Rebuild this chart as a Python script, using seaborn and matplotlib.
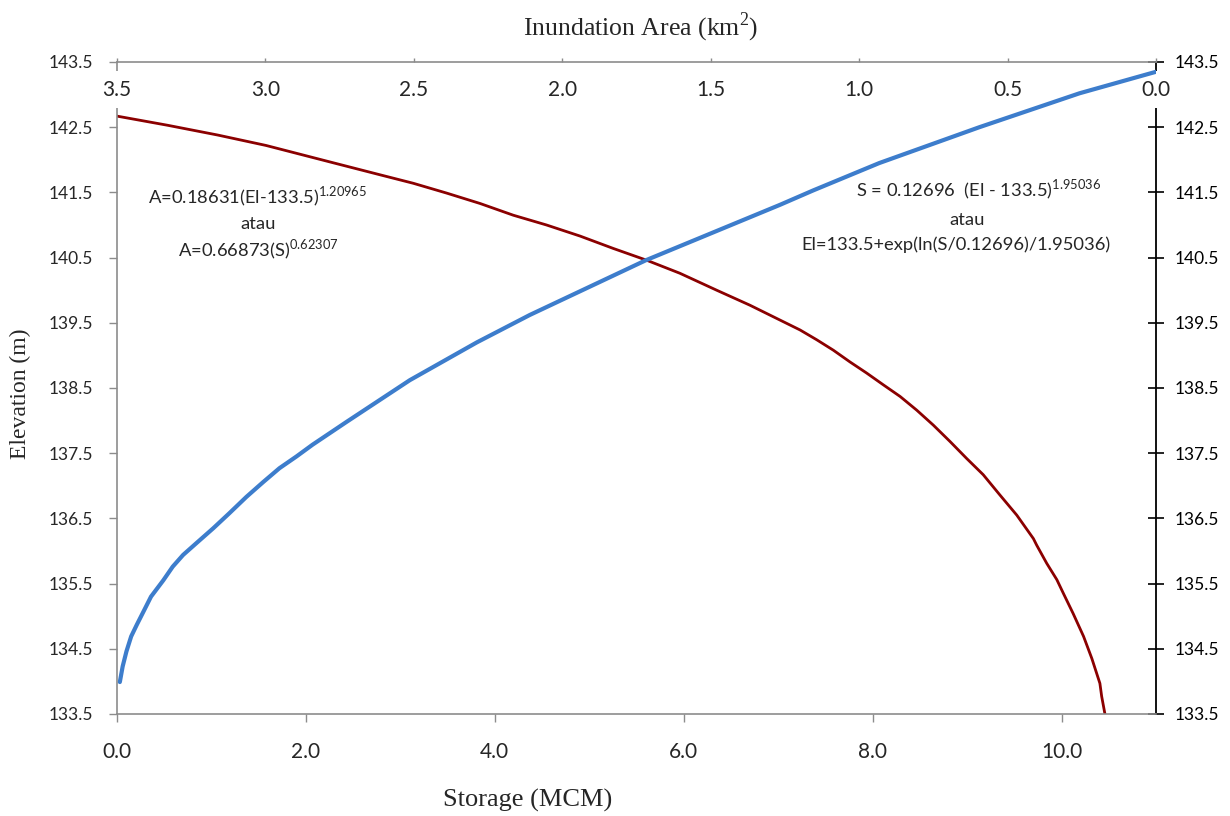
import matplotlib
matplotlib.use("Agg")
import matplotlib.pyplot as plt
import seaborn as sns
import pandas as pd

# ---- data ----
storage_mcm = [0.03, 0.06, 0.10, 0.15, 0.21, 0.28, 0.36, 0.49, 0.59, 0.70, 0.84, 1.02,
               1.19, 1.37, 1.55, 1.72, 1.90, 2.07, 2.43, 3.10, 3.81, 4.37, 5.60, 7.02,
               7.37, 8.07, 9.13, 10.19, 11.0]
storage_elev = [133.99, 134.23, 134.46, 134.69, 134.87, 135.07, 135.30, 135.55, 135.76,
                135.94, 136.12, 136.35, 136.58, 136.83, 137.06, 137.27, 137.45, 137.63,
                137.98, 138.62, 139.20, 139.62, 140.46, 141.31, 141.53, 141.95, 142.50,
                143.02, 143.35]

area_km2 = [3.500, 3.330, 3.161, 2.998, 2.768, 2.614, 2.502, 2.390, 2.277, 2.165, 2.053,
            1.940, 1.828, 1.716, 1.604, 1.480, 1.368, 1.199, 1.143, 1.087, 1.031, 0.975,
            0.919, 0.862, 0.806, 0.750, 0.694, 0.638, 0.582, 0.526, 0.469, 0.413, 0.402,
            0.368, 0.334, 0.312, 0.279, 0.244, 0.216, 0.189, 0.183, 0.172]
area_elev = [142.67, 142.53, 142.38, 142.22, 141.95, 141.77, 141.64, 141.49, 141.33,
             141.15, 141.00, 140.83, 140.64, 140.46, 140.26, 140.00, 139.77, 139.39,
             139.24, 139.08, 138.90, 138.73, 138.55, 138.37, 138.16, 137.93, 137.68,
             137.42, 137.17, 136.86, 136.55, 136.19, 136.09, 135.81, 135.56, 135.35,
             135.04, 134.69, 134.35, 133.97, 133.77, 133.50]

elev_ticks = [133.5, 134.5, 135.5, 136.5, 137.5, 138.5, 139.5, 140.5, 141.5, 142.5, 143.5]
storage_ticks = [0.0, 2.0, 4.0, 6.0, 8.0, 10.0]
area_ticks = [3.5, 3.0, 2.5, 2.0, 1.5, 1.0, 0.5, 0.0]

df_s = pd.DataFrame({"Storage": storage_mcm, "Elevation": storage_elev})
df_a = pd.DataFrame({"Area": area_km2, "Elevation": area_elev})

sns.set_style("white")
plt.rcParams["font.family"] = ["Lato", "DejaVu Sans"]

BLUE = "#3D7DCC"
RED = "#8B0000"
GRAY = "#8C8C8C"
SERIF = ["Liberation Serif", "DejaVu Serif"]

fig = plt.figure(figsize=(12.3, 8.16), dpi=100)
ax = fig.add_axes([117 / 1230, 1 - 714 / 816, (1156 - 117) / 1230, (714 - 62) / 816])
ax2 = ax.twiny()

# storage curve (bottom axis), drawn above everything
sns.lineplot(data=df_s, x="Storage", y="Elevation", ax=ax, color=BLUE, lw=3.0,
             estimator=None, sort=False)
ax.set_xlim(0, 11)
ax.set_ylim(133.5, 143.5)
ax.set_xticks(storage_ticks)
ax.set_xticklabels([f"{v:.1f}" for v in storage_ticks])
ax.set_yticks(elev_ticks)
ax.set_yticklabels([f"{v:.1f}" for v in elev_ticks])
ax.tick_params(axis="x", direction="out", length=6, width=1, color=GRAY,
               labelsize=15, pad=14, bottom=True, top=False)
ax.tick_params(axis="y", direction="out", length=6, width=1, color=GRAY,
               labelsize=12.5, pad=11, left=True, right=False)
for s in ("top", "right", "left"):
    ax.spines[s].set_visible(False)
ax.spines["bottom"].set_color(GRAY)
ax.spines["bottom"].set_linewidth(1.2)
ax.set_xlabel("")
ax.set_ylabel("")
ax.set_zorder(3)
ax.patch.set_visible(False)

# inundation area curve (top axis, reversed) + right elevation axis
sns.lineplot(data=df_a, x="Area", y="Elevation", ax=ax2, color=RED, lw=2.0,
             estimator=None, sort=False)
ax2.set_zorder(2)
ax2.set_xlim(3.5, 0.0)
ax2.set_xticks(area_ticks)
ax2.set_xticklabels([f"{v:.1f}" for v in area_ticks])
ax2.tick_params(axis="x", direction="out", length=3, width=1, color=GRAY,
                labelsize=15, pad=-30, top=True, labeltop=True, bottom=False,
                labelbottom=False)
for lbl in ax2.get_xticklabels():
    lbl.set_bbox(dict(boxstyle="square,pad=0.4", fc="white", ec="none"))
ax2.xaxis.set_zorder(3)

ax2.yaxis.set_visible(True)
ax2.yaxis.tick_right()
ax2.tick_params(axis="y", direction="inout", length=11, width=1.2, colors="black",
                labelsize=12.5, pad=8, right=True, left=False, labelright=True,
                labelleft=False)
ax2.spines["bottom"].set_visible(False)
ax2.spines["top"].set_color(GRAY)
ax2.spines["top"].set_linewidth(1.2)
ax2.spines["left"].set_color(GRAY)
ax2.spines["left"].set_linewidth(1.2)
ax2.spines["right"].set_color("black")
ax2.spines["right"].set_linewidth(1.3)
ax2.set_xlabel("")
ax2.set_ylabel("")

# axis titles
fig.text(641 / 1230, 1 - 27 / 816, "Inundation Area (km$^{\\mathregular{2}}$)",
         ha="center", va="center", fontsize=18.5, family=SERIF)
fig.text(528 / 1230, 1 - 800 / 816, "Storage (MCM)", ha="center", va="center",
         fontsize=19, family=SERIF)
fig.text(20 / 1230, 1 - 394 / 816, "Elevation (m)", ha="center", va="center",
         fontsize=17, family=SERIF, rotation=90)

# equation annotations
def fx(px):
    return (px - 117) / (1156 - 117)

def fy(py):
    return (714 - py) / (714 - 62)

AFS = 13.2
ax2.text(fx(258), fy(197), "A=0.18631(El-133.5)$^{\\mathregular{1.20965}}$",
         transform=ax.transAxes, ha="center", va="center", fontsize=AFS)
ax2.text(fx(258), fy(224), "atau", transform=ax.transAxes, ha="center", va="center",
         fontsize=AFS)
ax2.text(fx(258), fy(250), "A=0.66873(S)$^{\\mathregular{0.62307}}$",
         transform=ax.transAxes, ha="center", va="center", fontsize=AFS)

ax2.text(fx(979), fy(190), "S = 0.12696  (El - 133.5)$^{\\mathregular{1.95036}}$",
         transform=ax.transAxes, ha="center", va="center", fontsize=AFS)
ax2.text(fx(967), fy(220), "atau", transform=ax.transAxes, ha="center", va="center",
         fontsize=AFS)
ax2.text(fx(956), fy(245), "El=133.5+exp(ln(S/0.12696)/1.95036)",
         transform=ax.transAxes, ha="center", va="center", fontsize=AFS)

fig.savefig("out.png", dpi=100, facecolor="white")
